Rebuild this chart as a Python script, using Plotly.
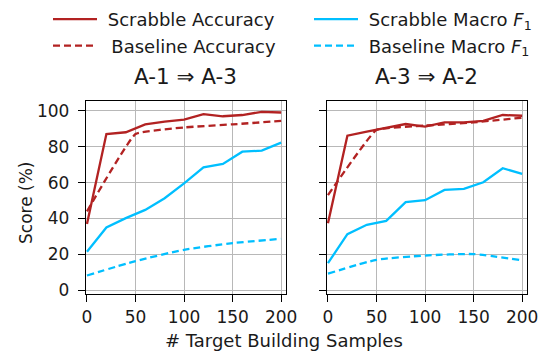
import plotly.graph_objects as go

x_scrabble = [0, 20, 40, 60, 80, 100, 120, 140, 160, 180, 200]
x_baseline = [0, 50, 100, 150, 200]

# Panel A-1 => A-3
a13_scrabble_acc = [37, 87, 88, 92.4, 93.9, 95, 98.1, 96.9, 97.6, 99.4, 99]
a13_baseline_acc = [44, 87, 90.7, 92.4, 94.3]
a13_scrabble_f1 = [21.5, 35, 40.2, 44.8, 51.3, 59.6, 68.5, 70.4, 77.2, 77.8, 82.2]
a13_baseline_f1 = [8.3, 16.3, 22.6, 26.3, 28.7]

# Panel A-3 => A-2
a32_scrabble_acc = [37.4, 86.1, 88.3, 90.6, 92.6, 91.1, 93.5, 93.5, 94.3, 97.6, 97.2]
a32_baseline_acc = [53, 89.3, 91.7, 93.5, 96.1]
a32_scrabble_f1 = [15.2, 31.3, 36.5, 38.7, 49.1, 50.2, 55.9, 56.5, 60.2, 68, 64.8]
a32_baseline_f1 = [9.3, 17, 19.4, 20.2, 16.7]

titles = ["A-1 \u21d2 A-3", "A-3 \u21d2 A-2"]
x_ticks = [0, 50, 100, 150, 200]
y_ticks = [0, 20, 40, 60, 80, 100]

RED = "#B22222"
BLUE = "#00BFFF"
FONT = "DejaVu Sans"
TXT = "#1a1a1a"
W, H = 546, 351
OFF = 8  # page body margin offset


def px(xp):
    return (xp - OFF) / W


def py(yp):
    return 1 - (yp - OFF) / H


fig = go.Figure()

panels = [
    ("x", "y", a13_scrabble_acc, a13_baseline_acc, a13_scrabble_f1, a13_baseline_f1),
    ("x2", "y2", a32_scrabble_acc, a32_baseline_acc, a32_scrabble_f1, a32_baseline_f1),
]
SP = "\u00a0"
for i, (xa, ya, sa, ba, sf, bf) in enumerate(panels):
    show = i == 0
    fig.add_trace(go.Scatter(x=x_scrabble, y=sa, mode="lines", xaxis=xa, yaxis=ya,
                             line=dict(color=RED, width=2.3), name=SP + "Scrabble Accuracy",
                             showlegend=show, legend="legend", legendgroup="sa"))
    fig.add_trace(go.Scatter(x=x_baseline, y=ba, mode="lines", xaxis=xa, yaxis=ya,
                             line=dict(color=RED, width=2.3, dash="7px,4px", shape="spline", smoothing=0.3),
                             name=SP + "\u2009Baseline Accuracy",
                             showlegend=show, legend="legend", legendgroup="ba"))
    fig.add_trace(go.Scatter(x=x_scrabble, y=sf, mode="lines", xaxis=xa, yaxis=ya,
                             line=dict(color=BLUE, width=2.3), name=SP + "Scrabble Macro <i>F</i><sub>1</sub>",
                             showlegend=show, legend="legend2", legendgroup="sf"))
    fig.add_trace(go.Scatter(x=x_baseline, y=bf, mode="lines", xaxis=xa, yaxis=ya,
                             line=dict(color=BLUE, width=2.3, dash="7px,4px", shape="spline", smoothing=0.6),
                             name=SP + "Baseline Macro <i>F</i><sub>1</sub>",
                             showlegend=show, legend="legend2", legendgroup="bf"))

dom1 = [px(86), px(286)]
dom2 = [px(327), px(527)]
ydom = [py(294), py(101)]

axis_common = dict(showline=True, linecolor="black", linewidth=1.3, mirror=True,
                   showgrid=True, gridcolor="#b8b8b8", gridwidth=1.3,
                   ticks="outside", ticklen=7, tickcolor="black", tickwidth=1.3,
                   zeroline=False, automargin=False,
                   tickfont=dict(family=FONT, size=17, color=TXT))

fig.update_layout(
    template="none",
    width=W, height=H,
    margin=dict(l=0, r=0, t=0, b=0, autoexpand=False),
    paper_bgcolor="white", plot_bgcolor="white",
    font=dict(family=FONT, size=17, color=TXT),
    xaxis=dict(domain=dom1, range=[-1, 205], tickvals=x_ticks, anchor="y", **axis_common),
    xaxis2=dict(domain=dom2, range=[-1, 205], tickvals=x_ticks, anchor="y2", **axis_common),
    yaxis=dict(domain=ydom, range=[-2, 105.4], tickvals=y_ticks, anchor="x",
               ticklabelstandoff=5, **axis_common),
    yaxis2=dict(domain=ydom, range=[-2, 105.4], tickvals=y_ticks, anchor="x2",
                showticklabels=False, **axis_common),
    legend=dict(x=px(48), y=py(1), xanchor="left", yanchor="top", bgcolor="rgba(0,0,0,0)",
                font=dict(family=FONT, size=18, color=TXT), tracegroupgap=0, itemwidth=44),
    legend2=dict(x=px(309), y=py(1), xanchor="left", yanchor="top", bgcolor="rgba(0,0,0,0)",
                 font=dict(family=FONT, size=18, color=TXT), tracegroupgap=0, itemwidth=44),
    annotations=[
        dict(text=titles[0], x=(dom1[0] + dom1[1]) / 2, y=py(77), xref="paper", yref="paper",
             xanchor="center", yanchor="middle", showarrow=False, font=dict(family=FONT, size=21.5, color=TXT)),
        dict(text=titles[1], x=(dom2[0] + dom2[1]) / 2, y=py(77), xref="paper", yref="paper",
             xanchor="center", yanchor="middle", showarrow=False, font=dict(family=FONT, size=21.5, color=TXT)),
        dict(text="# Target Building Samples", x=px(284), y=py(340), xref="paper", yref="paper",
             xanchor="center", yanchor="middle", showarrow=False, font=dict(family=FONT, size=18, color=TXT)),
        dict(text="Score (%)", x=px(26), y=py(203), xref="paper", yref="paper", textangle=-90,
             xanchor="center", yanchor="middle", showarrow=False, font=dict(family=FONT, size=17, color=TXT)),
    ],
)

fig.write_html("out.html")
